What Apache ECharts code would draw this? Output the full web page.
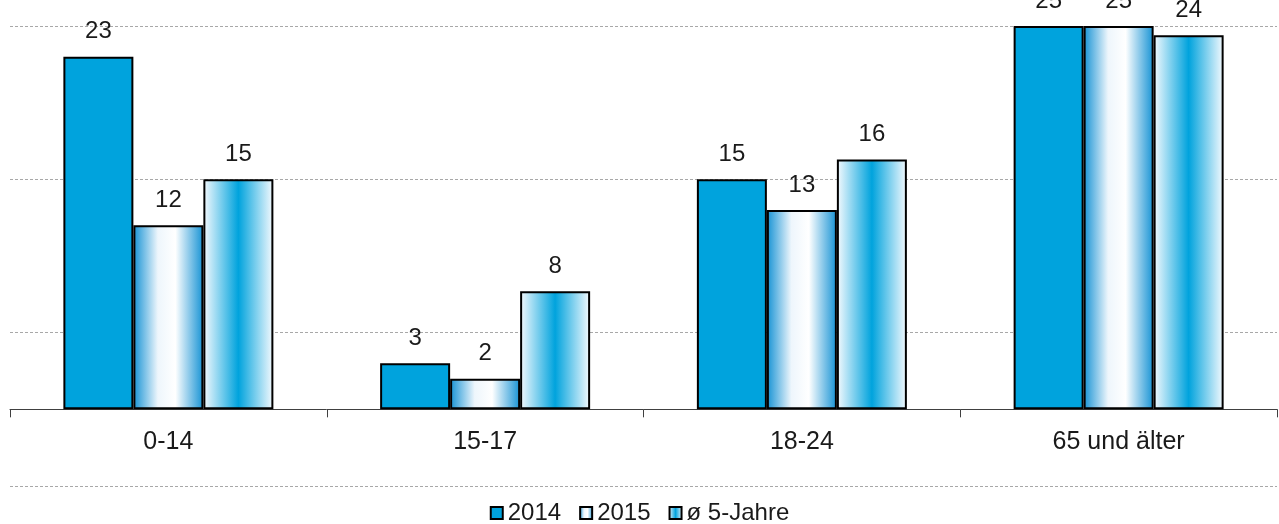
<!DOCTYPE html>
<html>
<head>
<meta charset="utf-8">
<script src="https://cdn.jsdelivr.net/npm/echarts@6/dist/echarts.min.js"></script>
<style>
	html, body { margin: 0; padding: 0; background: #fff; }
	#chart { width: 1279px; height: 524px; }
</style>
</head>
<body>
<div id="chart"></div>
<script>
var categories = ['0-14', '15-17', '18-24', '65 und älter'];
var seriesNames = ['2014', '2015', 'ø 5-Jahre'];
var values2014 = [23, 3, 15, 25];
var values2015 = [12, 2, 13, 25];
var valuesAvg = [15, 7.7, 16.3, 24.4];

var blue = '#00a3dd';
var textFont = 'Liberation Sans, Arial, sans-serif';

function edgeGradient() {
	// blau an den Rändern, weiß in der Mitte
	return new echarts.graphic.LinearGradient(0, 0, 1, 0, [
		{offset: 0, color: '#1592d4'},
		{offset: 0.35, color: '#eef6fc'},
		{offset: 0.6, color: '#ffffff'},
		{offset: 1, color: '#1592d4'}
	]);
}

function centerGradient() {
	// weiß an den Rändern, blau in der Mitte
	return new echarts.graphic.LinearGradient(0, 0, 1, 0, [
		{offset: 0, color: '#f6fafe'},
		{offset: 0.5, color: '#00a3dd'},
		{offset: 1, color: '#f6fafe'}
	]);
}

function makeSeries(name, data, color) {
	return {
		name: name,
		type: 'bar',
		data: data,
		barWidth: 70,
		barGap: '0%',
		itemStyle: {
			color: color,
			borderColor: '#000',
			borderWidth: 2
		},
		label: {
			show: true,
			position: 'top',
			distance: 13,
			fontSize: 24,
			fontFamily: textFont,
			color: '#1a1a1a',
			formatter: function (p) {
				return Math.round(p.value);
			}
		}
	};
}

var myChart = echarts.init(document.getElementById('chart'));
var option = {
	animation: false,
	backgroundColor: '#fff',
	grid: {
		left: 10,
		right: 2,
		top: 26,
		bottom: 38,
		containLabel: false
	},
	legend: {
		data: seriesNames,
		bottom: -6,
		left: 'center',
		icon: 'rect',
		itemWidth: 12,
		itemHeight: 12,
		itemGap: 18,
		textStyle: {
			fontSize: 24,
			fontFamily: textFont,
			color: '#1a1a1a'
		}
	},
	xAxis: {
		type: 'category',
		data: categories,
		axisLine: {
			onZero: true,
			lineStyle: {color: '#404040', width: 1}
		},
		axisTick: {
			show: true,
			length: 8,
			lineStyle: {color: '#404040'}
		},
		axisLabel: {
			// Beschriftung sitzt unter der Nulllinie, nicht am Gitterrand
			margin: -56,
			fontSize: 25,
			fontFamily: textFont,
			color: '#1a1a1a'
		}
	},
	yAxis: {
		type: 'value',
		min: -5,
		max: 25,
		interval: 10,
		axisLine: {show: false},
		axisTick: {show: false},
		axisLabel: {show: false},
		splitLine: {
			lineStyle: {color: '#a8a8a8', type: [3, 2], width: 1}
		}
	},
	series: [
		makeSeries(seriesNames[0], values2014, blue),
		makeSeries(seriesNames[1], values2015, edgeGradient()),
		makeSeries(seriesNames[2], valuesAvg, centerGradient())
	]
};
myChart.setOption(option);
</script>
</body>
</html>
